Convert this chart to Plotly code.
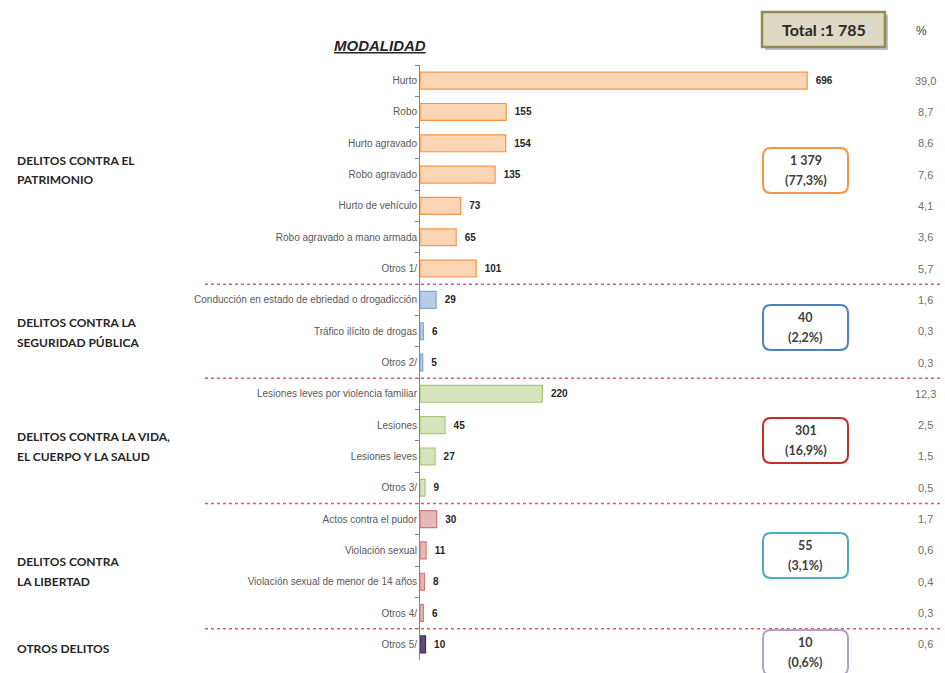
import plotly.graph_objects as go

# ---------------- data ----------------
categories = [
    "Hurto", "Robo", "Hurto agravado", "Robo agravado", "Hurto de vehículo",
    "Robo agravado a mano armada", "Otros 1/",
    "Conducción en estado de ebriedad o drogadicción", "Tráfico ilícito de drogas", "Otros 2/",
    "Lesiones leves por violencia familiar", "Lesiones", "Lesiones leves", "Otros 3/",
    "Actos contra el pudor", "Violación sexual", "Violación sexual de menor de 14 años", "Otros 4/",
    "Otros 5/",
]
values = [696, 155, 154, 135, 73, 65, 101, 29, 6, 5, 220, 45, 27, 9, 30, 11, 8, 6, 10]
percents = ["39,0", "8,7", "8,6", "7,6", "4,1", "3,6", "5,7", "1,6", "0,3", "0,3",
            "12,3", "2,5", "1,5", "0,5", "1,7", "0,6", "0,4", "0,3", "0,6"]
groups = [0, 0, 0, 0, 0, 0, 0, 1, 1, 1, 2, 2, 2, 2, 3, 3, 3, 3, 4]

group_names = [
    ["DELITOS CONTRA EL", "PATRIMONIO"],
    ["DELITOS CONTRA LA", "SEGURIDAD PÚBLICA"],
    ["DELITOS CONTRA LA VIDA,", "EL CUERPO Y LA SALUD"],
    ["DELITOS CONTRA", "LA LIBERTAD"],
    ["OTROS DELITOS"],
]
group_totals = ["1 379", "40", "301", "55", "10"]
group_shares = ["77,3", "2,2", "16,9", "3,1", "0,6"]
total_text = "1 785"

# ---------------- styles ----------------
fill_colors = ["#FCD5B5", "#B9CDE5", "#D7E4BD", "#E6B9B8", "#604A7B"]
line_colors = ["#F79646", "#7EA6D8", "#A9C77A", "#D07A78", "#403152"]
box_colors = ["#F79646", "#4F81BD", "#C0302A", "#4BACC6", "#B2A1C7"]
NARROW = "Liberation Sans Narrow, Arial Narrow, Liberation Sans"
BOLDF = "Lato, Open Sans, sans-serif"

W, H = 945, 673


def px(x):
    return x / W


def py(y):
    return 1 - y / H


fig = go.Figure()
fig.add_trace(go.Bar(
    y=categories, x=values, orientation="h",
    marker=dict(color=[fill_colors[g] for g in groups],
                line=dict(color=[line_colors[g] for g in groups], width=1.2)),
    width=0.54,
    texttemplate="\u00a0\u00a0<b>%{x}</b>", textposition="outside",
    textfont=dict(size=10, color="#262626", family=NARROW),
    cliponaxis=False, showlegend=False, hoverinfo="skip",
))

annotations = []
shapes = []


def note(x, y, text, size, color, family, xanchor="center", yref="paper"):
    annotations.append(dict(x=x, xref="paper", y=y, yref=yref, text=text, showarrow=False,
                            xanchor=xanchor, yanchor="middle",
                            font=dict(size=size, color=color, family=family)))


# percent column
for c, p in zip(categories, percents):
    note(px(925), c, p, 11, "#6F6F6F", NARROW, yref="y")

# separators between groups
for i in range(1, len(groups)):
    if groups[i] != groups[i - 1]:
        shapes.append(dict(type="line", xref="paper", x0=px(205), x1=px(940), yref="y",
                           y0=i - 0.5, y1=i - 0.5,
                           line=dict(color="#E05A5F", width=1.5, dash="3px,3px")))

# group labels
label_centers = [170, 332, 446, 571, 648]
for names, yc in zip(group_names, label_centers):
    n = len(names)
    for k, t in enumerate(names):
        yy = yc + (k - (n - 1) / 2) * 20
        note(px(15), py(yy), "<b>" + t + "</b>", 12, "#262626", BOLDF, xanchor="left")


# rounded boxes with group totals
def rrect(x0, y0, x1, y1, r):
    return (f"M {px(x0 + r)},{py(y0)} L {px(x1 - r)},{py(y0)} "
            f"Q {px(x1)},{py(y0)} {px(x1)},{py(y0 + r)} "
            f"L {px(x1)},{py(y1 - r)} Q {px(x1)},{py(y1)} {px(x1 - r)},{py(y1)} "
            f"L {px(x0 + r)},{py(y1)} Q {px(x0)},{py(y1)} {px(x0)},{py(y1 - r)} "
            f"L {px(x0)},{py(y0 + r)} Q {px(x0)},{py(y0)} {px(x0 + r)},{py(y0)} Z")


box_tops = [148, 305, 418, 533, 630]
for g, top in enumerate(box_tops):
    shapes.append(dict(type="path", xref="paper", yref="paper", path=rrect(763, top, 848, top + 45, 8),
                       line=dict(color=box_colors[g], width=2), fillcolor="white"))
    for k, t in enumerate([group_totals[g], "(" + group_shares[g] + "%)"]):
        note(px(805.5), py(top + 12.5 + 20 * k), "<b>" + t + "</b>", 12.5, "#404040", BOLDF)

# total box
shapes.append(dict(type="rect", xref="paper", yref="paper", x0=px(765), x1=px(888), y0=py(15), y1=py(50),
                   line=dict(width=0), fillcolor="#BFBFBF"))
shapes.append(dict(type="rect", xref="paper", yref="paper", x0=px(762), x1=px(885), y0=py(12), y1=py(47),
                   line=dict(color="#948A54", width=2.5), fillcolor="#DDD9C3"))
note(px(823.5), py(29.5), "<b>Total :" + total_text + "</b>", 16, "#262626", BOLDF)
note(px(921), py(31), "%", 12, "#404040", "Liberation Sans, Arial")
note(px(380), py(46), "<b><i><u>MODALIDAD</u></i></b>", 15, "#262626", "Liberation Sans, Arial")

fig.update_layout(
    width=W, height=H, autosize=False,
    margin=dict(l=0, r=0, t=0, b=0),
    paper_bgcolor="white", plot_bgcolor="white",
    xaxis=dict(domain=[px(420), px(865)], range=[0, 800], visible=False),
    yaxis=dict(domain=[py(660), py(65)], type="category", range=[18.5, -0.5],
               showline=True, linecolor="#868686", linewidth=1,
               ticks="outside", tickson="boundaries", ticklen=4, tickcolor="#868686",
               tickfont=dict(size=10, color="#595959", family=NARROW),
               showgrid=False),
    annotations=annotations, shapes=shapes,
    bargap=0.46,
)

fig.write_html("out.html", config={"displayModeBar": False},
               post_script="document.body.style.margin='0';")
